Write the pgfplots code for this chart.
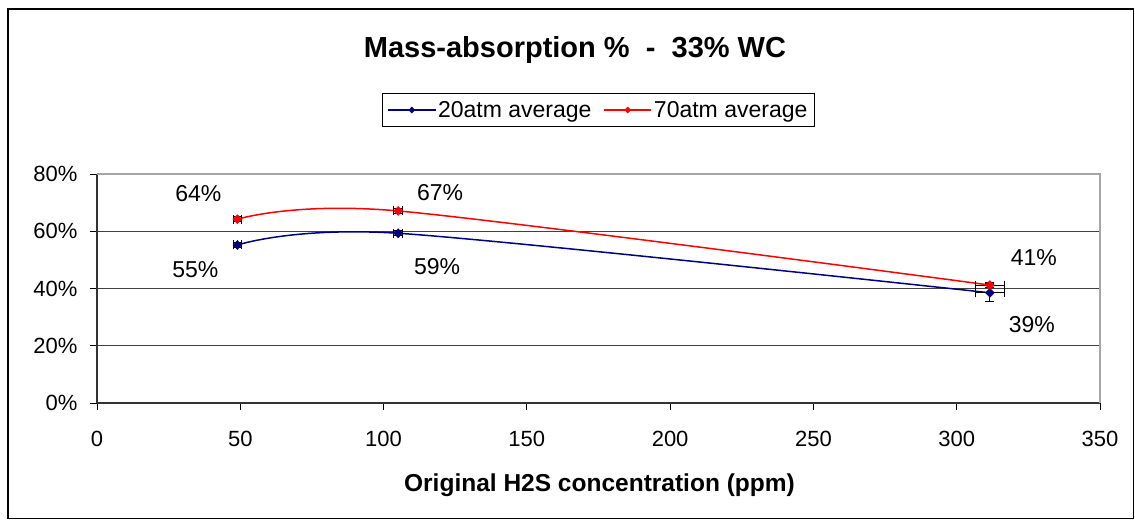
\documentclass[border=0pt]{standalone}
\usepackage{pgfplots}
\pgfplotsset{compat=1.18}
\usetikzlibrary{calc}
\usepackage{fontspec}
\setmainfont{Liberation Sans}
\definecolor{navyblue}{RGB}{0,0,128}
\definecolor{xlred}{RGB}{255,0,0}
\begin{document}
\begin{tikzpicture}
\newcommand{\lf}{\fontsize{22}{26}\selectfont}
\newcommand{\df}{\fontsize{23}{27}\selectfont}
\begin{axis}[
  at={(0pt,0pt)}, anchor=south west,
  scale only axis, width=1003pt, height=229pt,
  xmin=0, xmax=350, ymin=0, ymax=80,
  xtick={0,50,...,350}, ytick={0,20,...,80},
  axis lines=left, axis line style={-, black!80, line width=1.2pt},
  tick align=outside, major tick length=7pt,
  tick style={black, line width=0.9pt},
  ymajorgrids, grid style={black!75, line width=0.9pt},
  /pgf/number format/assume math mode=true,
  ticklabel style={font=\lf},
  yticklabel={\pgfmathprintnumber{\tick}\%},
  yticklabel style={xshift=-9pt},
  xticklabel style={yshift=-18pt},
  xlabel={\textbf{Original H2S concentration (ppm)}},
  xlabel style={font=\fontsize{24.5}{28}\selectfont, at={(axis description cs:0.5,0)}, anchor=base, yshift=-88pt, xshift=1pt},
  legend style={at={(axis description cs:0.5,1.2795)}, anchor=center,
    draw=black, line width=0.9pt, font=\df, legend columns=2,
    inner xsep=5pt, inner ysep=6pt,
    /tikz/every even column/.append style={column sep=10pt}},
  legend cell align=left,
  legend image code/.code={\draw[mark repeat=2,mark phase=2,#1,mark size=3pt] plot coordinates {(0pt,0pt) (23.5pt,0pt) (47pt,0pt)};},
  clip=false,
]
\addplot[navyblue, line width=1.5pt, smooth, mark=diamond*, mark size=4.5pt,
  mark options={fill=navyblue, draw=navyblue, line width=0.5pt, xscale=1.3},
  error bars/.cd, x dir=both, x explicit, y dir=both, y explicit,
  error bar style={black, line width=1pt}, error mark options={rotate=90, black, line width=1pt, mark size=4.5pt}]
  table[x=x, y=y, x error=ex, y error=ey]{
  x y ex ey
  49.0 55.2 1.3 0.8
  105.1 59.3 1.6 0.8
  311.6 38.5 5.2 3.1
};
\addlegendentry{20atm average}
\addplot[xlred, line width=1.5pt, smooth, mark=diamond*, mark size=4.5pt,
  mark options={fill=xlred, draw=xlred, line width=0.5pt, xscale=1.3},
  error bars/.cd, x dir=both, x explicit, y dir=both, y explicit,
  error bar style={black, line width=1pt}, error mark options={rotate=90, black, line width=1pt, mark size=4.5pt}]
  table[x=x, y=y, x error=ex, y error=ey]{
  x y ex ey
  49.0 64.2 1.3 0.8
  105.1 67.1 1.6 0.8
  311.6 41.2 5.2 1.0
};
\addlegendentry{70atm average}
\draw[gray!70, line width=1.2pt] (axis description cs:0,1) -- (axis description cs:1,1) -- (axis description cs:1,0);
\node[font=\df] at ($(axis cs:49.0,64.2)+(-39pt,26pt)$) {64\%};
\node[font=\df] at ($(axis cs:49.0,55.2)+(-42pt,-25pt)$) {55\%};
\node[font=\df] at ($(axis cs:105.1,67.1)+(42pt,18pt)$) {67\%};
\node[font=\df] at ($(axis cs:105.1,59.3)+(39pt,-33pt)$) {59\%};
\node[font=\df] at ($(axis cs:311.6,41.2)+(44pt,27pt)$) {41\%};
\node[font=\df] at ($(axis cs:311.6,38.5)+(42pt,-32pt)$) {39\%};
\node[font=\fontsize{29}{33}\selectfont\bfseries, anchor=base] at ($(axis description cs:0.5,1)+(-23.5pt,117pt)$) {Mass-absorption \%\ \ -\ \ 33\% WC};
\end{axis}
\draw[black, line width=1.3pt] (-89pt,-115.5pt) rectangle (1036.5pt,394pt);
\pgfresetboundingbox
\path[use as bounding box] (-97pt,-117pt) rectangle (1038pt,403pt);
\end{tikzpicture}
\end{document}
